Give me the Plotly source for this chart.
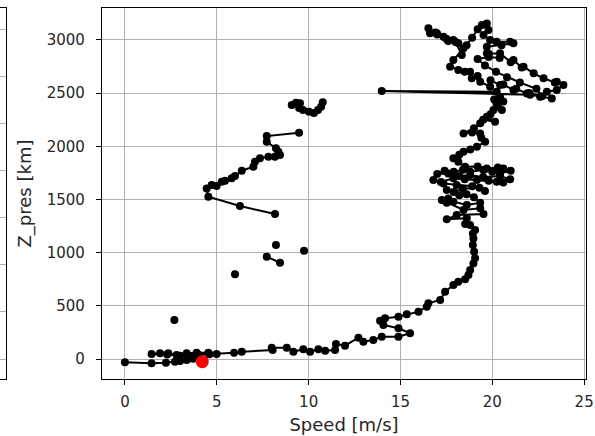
import plotly.graph_objects as go

# Main sounding (speed in m/s, pressure altitude in km); None = gap
speed = [
    0, 1.45, 2.23, 2.72, 3.0, 3.36, 3.7, 3.9, 4.54, 3.9, 3.36, 2.81, 2.36, 1.91, 1.45,
    2.3, 3.0, 3.6, 4.0, 4.6, 4.99, 5.94, 6.36, 8.04, 7.99, 8.81, 9.17, 9.71, 10.08,
    10.53, 10.9, 11.44, 11.49, 11.98, 12.71, 12.98, 13.52, 13.98, 14.89, 15.52, 14.89,
    14.07, 13.89, 14.16, 14.89, 15.34, 15.98, 16.43, 16.52, 17.16, 17.43, 17.88, 18.15,
    18.52, 18.70, 18.79, 18.97, 19.06, 19.01, 18.94, 18.97, 18.94, 19.06, 18.79, 18.52,
    18.61, 17.52, 18.06, 19.52, 19.34, 18.43, 17.52, 17.25, 17.6, 17.88, 18.61, 19.34,
    19.0, 18.6, 18.2, 17.52, 17.9, 18.4, 19.3, 19.6, 18.9, 18.06, 17.34, 16.79, 17.2,
    17.88, 18.5, 19.16, 19.8, 20.24, 20.6, 20.97, 20.42, 19.5, 18.8, 18.2, 17.6, 17.0,
    17.4, 17.9, 18.4, 18.79, 19.52, 20.0, 20.42, 21.0, 20.6, 20.3, 19.7, 19.2, 18.52,
    18.15, 17.88, 18.2, 18.43, 18.8, 19.16, 19.61, 19.4, 19.34, 18.9, 18.43, 19.0,
    19.34, 19.5, 20.15, 19.70, 19.9, 20.06, 20.52, 20.3, 20.24, 20.6, 20.1, 20.42,
    20.24, 13.98, 22.06, 22.60, 23.24, 22.97, 23.51, 23.87, 23.51, 23.4, 22.79, 22.25,
    21.70, 21.6, 21.15, 21.0, 20.42, 19.8, 19.70, 19.70, 20.5, 21.15, 20.97, 20.24,
    19.88, 19.52, 19.79, 19.70, 19.43, 19.2, 18.9, 18.43, 18.15, 17.88, 17.34, 16.98,
    16.61, 16.52, 16.9, 17.0, 17.5, 17.6, 18.0, 18.34, 18.6, 17.88, 17.70, 18.15,
    18.5, 18.79, 18.88, 19.2, 19.34, 19.88, 19.9, 20.42, 20.6, 21.15, 21.3, 21.88,
    22.0, 22.7, 22.4, 21.5, 20.8, 20.2, 19.6, 19.2, 19.8, 20.4,
    None,
    2.69,
    None,
    5.99,
    None,
    7.72, 8.44,
    None,
    8.22,
    None,
    9.75,
    None,
    8.17, 6.26, 4.54, 4.45, 4.72, 4.99, 5.27, 5.45, 5.81, 5.99, 6.36, 6.99, 7.08, 7.35,
    7.81, 8.17, 8.44, 8.35, 8.22, 7.72, 7.72, 9.48,
    None,
    9.08, 9.31, 9.53, 9.48, 9.69, 10.02, 10.29, 10.51, 10.68, 10.77,
]
z_pres = [
    -31, -41, -35, -25, -18, -9, 2, 16, 59, 59, 54, 38, 54, 54, 47,
    42, 30, 25, 40, 45, 47, 59, 69, 85, 106, 106, 69, 91, 69,
    91, 78, 85, 141, 125, 200, 163, 179, 210, 210, 242, 289,
    320, 360, 383, 398, 420, 445, 492, 524, 555, 633, 696, 727,
    749, 790, 837, 899, 947, 1009, 1072, 1134, 1181, 1213, 1260, 1269,
    1323, 1313, 1354, 1363, 1417, 1401, 1469, 1495, 1510, 1479, 1448, 1470,
    1520, 1550, 1540, 1589, 1570, 1600, 1610, 1580, 1625, 1636, 1651, 1683, 1665,
    1699, 1690, 1683, 1675, 1667, 1660, 1689, 1720, 1710, 1730, 1720, 1745, 1740,
    1770, 1760, 1780, 1761, 1777, 1760, 1745, 1770, 1790, 1800, 1790, 1810, 1808,
    1855, 1887, 1920, 1949, 1970, 1996, 2043, 2080, 2121, 2130, 2121, 2170,
    2216, 2250, 2231, 2278, 2300, 2341, 2341, 2380, 2403, 2420, 2440, 2466,
    2513, 2520, 2485, 2466, 2450, 2513, 2529, 2576, 2607, 2600, 2639, 2686,
    2748, 2740, 2811, 2790, 2874, 2870, 2874, 2936, 2950, 2968, 2983, 2983,
    2999, 3046, 3093, 3155, 3140, 3100, 3020, 2921, 2968, 2999, 3030, 3062,
    3062, 3109, 3070, 3050, 3010, 2990, 2980, 2858, 2950, 2811, 2748, 2717,
    2700, 2701, 2639, 2660, 2607, 2560, 2620, 2576, 2580, 2529, 2540, 2497,
    2500, 2470, 2540, 2600, 2650, 2700, 2760, 2820, 2840, 2830,
    None,
    367,
    None,
    796,
    None,
    962, 905,
    None,
    1072,
    None,
    1018,
    None,
    1363, 1438, 1526, 1604, 1636, 1626, 1667, 1676, 1699, 1720, 1770, 1808, 1855, 1887,
    1902, 1902, 1918, 1949, 1981, 2043, 2096, 2127,
    None,
    2388, 2409, 2404, 2359, 2341, 2325, 2312, 2341, 2372, 2413,
]

# Highlighted launch point
launch_speed = [4.21]
launch_z = [-25]

x_ticks = [0, 5, 10, 15, 20, 25]
y_ticks = [0, 500, 1000, 1500, 2000, 2500, 3000]

W, H = 595, 436
px_l, px_r, px_t, px_b = 102, 586, 8, 379

fig = go.Figure()
fig.add_trace(go.Scatter(
    x=speed, y=z_pres, mode="lines+markers",
    line=dict(color="black", width=2),
    marker=dict(color="black", size=8),
    connectgaps=False, showlegend=False, hoverinfo="skip",
))
fig.add_trace(go.Scatter(
    x=launch_speed, y=launch_z, mode="markers",
    marker=dict(color="red", size=13),
    showlegend=False, hoverinfo="skip",
))
# partially visible neighbouring panel at the left edge
fig.add_trace(go.Scatter(x=[], y=[], xaxis="x2", yaxis="y2", showlegend=False))

font_col = "#262626"
fig.update_layout(
    width=W, height=H,
    margin=dict(l=0, r=0, t=0, b=0),
    paper_bgcolor="white", plot_bgcolor="white",
    font=dict(family="DejaVu Sans", size=15, color=font_col),
    xaxis=dict(
        domain=[px_l / W, px_r / W], range=[-1.25, 25.1],
        tickvals=x_ticks, ticks="outside", ticklen=5, tickcolor="black",
        ticklabelstandoff=4,
        showgrid=True, gridcolor="#b0b0b0", gridwidth=1,
        showline=True, linecolor="black", linewidth=1.2, mirror=True,
        zeroline=False, anchor="y", automargin=False,
        title=dict(text="Speed [m/s]", standoff=8),
    ),
    yaxis=dict(
        domain=[1 - px_b / H, 1 - px_t / H], range=[-188, 3300],
        tickvals=y_ticks, ticks="outside", ticklen=5, tickcolor="black",
        ticklabelstandoff=8,
        showgrid=True, gridcolor="#b0b0b0", gridwidth=1,
        showline=True, linecolor="black", linewidth=1.2, mirror=True,
        zeroline=False, anchor="x", automargin=False,
        title=dict(text="Z_pres [km]", standoff=10),
    ),
    xaxis2=dict(
        domain=[0, 6 / W], range=[0, 1], showticklabels=False, ticks="",
        showgrid=False, showline=True, linecolor="black", linewidth=1.2,
        mirror=True, zeroline=False, anchor="y2", automargin=False,
    ),
    yaxis2=dict(
        domain=[1 - px_b / H, 1 - px_t / H], range=[-0.424, 7.446],
        tickvals=[0, 1, 2, 3, 4, 5, 6, 7], showticklabels=False, ticks="",
        showgrid=True, gridcolor="#b0b0b0", gridwidth=1,
        showline=True, linecolor="black", linewidth=1.2, mirror=True,
        zeroline=False, anchor="x2", automargin=False,
    ),
)

fig.write_html("out.html", config={"displayModeBar": False},
               post_script="document.body.style.margin='0';document.body.style.padding='0';")
